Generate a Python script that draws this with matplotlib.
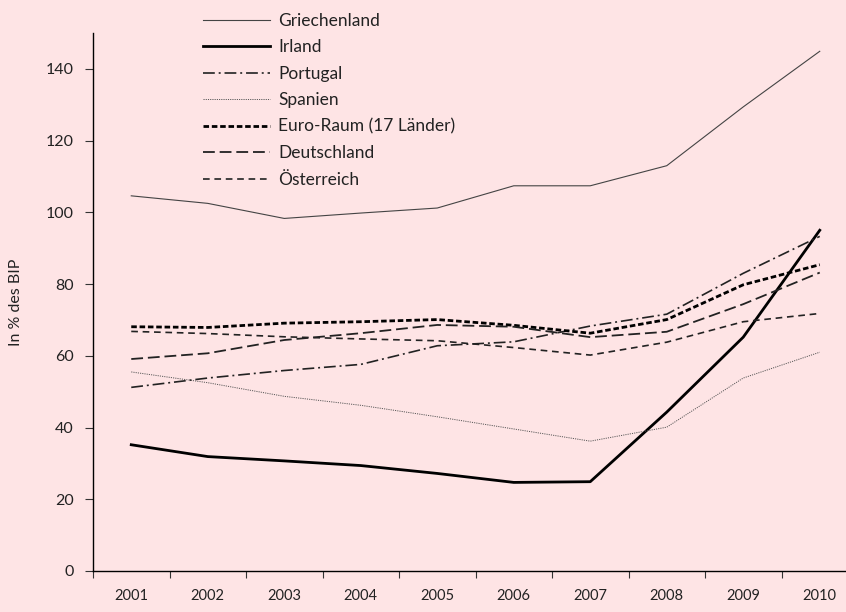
import matplotlib
matplotlib.use('Agg')
import matplotlib.pyplot as plt

# Staatsverschuldung in % des BIP
years = ['2001', '2002', '2003', '2004', '2005', '2006', '2007', '2008', '2009', '2010']
griechenland = [104.6, 102.5, 98.3, 99.8, 101.2, 107.4, 107.4, 113.0, 129.4, 144.9]
irland = [35.2, 31.9, 30.7, 29.4, 27.2, 24.7, 24.9, 44.3, 65.2, 95.0]
portugal = [51.2, 53.8, 55.9, 57.6, 62.8, 63.9, 68.3, 71.6, 83.0, 93.3]
spanien = [55.5, 52.5, 48.7, 46.2, 43.0, 39.6, 36.2, 40.1, 53.8, 61.0]
euro_raum = [68.1, 67.9, 69.1, 69.5, 70.1, 68.5, 66.3, 70.1, 79.8, 85.4]
deutschland = [59.1, 60.7, 64.4, 66.3, 68.6, 68.1, 65.2, 66.7, 74.4, 83.2]
oesterreich = [66.8, 66.2, 65.3, 64.7, 64.2, 62.3, 60.2, 63.8, 69.5, 71.8]

bg = '#fee4e5'
plt.rcParams['font.family'] = ['Lato', 'DejaVu Sans']
plt.rcParams['lines.scale_dashes'] = False

fig = plt.figure(figsize=(8.46, 6.12), dpi=100, facecolor=bg)
ax = fig.add_axes([93 / 846, 41 / 612, 765 / 846, 538 / 612])
ax.set_facecolor(bg)

x = list(range(len(years)))
ax.plot(x, griechenland, color='#444444', lw=0.8, label='Griechenland')
ax.plot(x, irland, color='black', lw=2.0, label='Irland')
ax.plot(x, portugal, color='#222222', lw=1.2, dashes=(8.5, 2.8, 1.4, 2.8), label='Portugal')
ax.plot(x, spanien, color='#555555', lw=0.7, dashes=(0.8, 0.8), label='Spanien')
ax.plot(x, euro_raum, color='black', lw=2.0, dashes=(4.0, 2.0), label='Euro-Raum (17 Länder)')
ax.plot(x, deutschland, color='#222222', lw=1.3, dashes=(8.5, 3.5), label='Deutschland')
ax.plot(x, oesterreich, color='#222222', lw=1.2, dashes=(4.8, 3.4), label='Österreich')

ax.set_xlim(-0.5, len(years) - 0.5)
ax.set_ylim(0, 150)
ax.set_yticks(range(0, 141, 20))
ax.set_xticks([i - 0.5 for i in x])
ax.set_xticklabels([])
ax.set_xticks(x, minor=True)
ax.set_xticklabels(years, minor=True, fontsize=10.5, color='#222222')
ax.tick_params(axis='x', which='minor', length=0, pad=13)
ax.tick_params(axis='x', which='major', length=5, width=0.8, color='#333333')
ax.tick_params(axis='y', length=6, width=0.8, color='#333333', labelsize=11.5, pad=8, labelcolor='#222222')

for side in ['top', 'right']:
    ax.spines[side].set_visible(False)
for side in ['left', 'bottom']:
    ax.spines[side].set_color('black')
    ax.spines[side].set_linewidth(1.0)

ax.set_ylabel('In % des BIP', fontsize=11.5, color='#222222', labelpad=16)

fig.legend(loc='upper left', bbox_to_anchor=(203 / 846, 1 - 13 / 612), frameon=False,
           fontsize=12.5, handlelength=3.86, handletextpad=0.46, labelspacing=0.6,
           borderpad=0, borderaxespad=0, labelcolor='#222222')

fig.savefig('out.png', dpi=100, facecolor=bg)
